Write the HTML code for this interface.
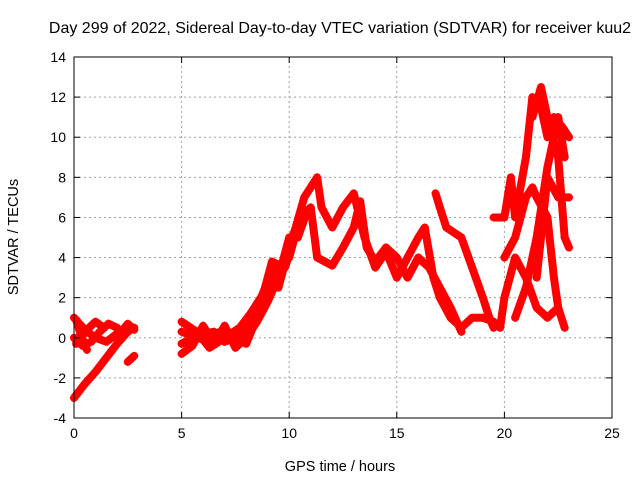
<!DOCTYPE html>
<html><head><meta charset="utf-8"><style>
body{margin:0;background:#fff}
svg{display:block;font-family:"Liberation Sans",sans-serif}
</style></head><body>
<svg id="chart" width="640" height="480">
<rect width="640" height="480" fill="#fff"/>
<g id="grid"></g>
<g id="series"></g>
<rect x="74" y="57" width="538" height="361" fill="none" stroke="#000"/>
<g id="ticks"></g>
<text x="340" y="33" text-anchor="middle" font-size="16">Day 299 of 2022, Sidereal Day-to-day VTEC variation (SDTVAR) for receiver kuu2</text>
<text x="340" y="471" text-anchor="middle" font-size="14.5">GPS time / hours</text>
<text transform="translate(18,237) rotate(-90)" text-anchor="middle" font-size="14.5">SDTVAR / TECUs</text>
</svg>
<script>
const xTicks=[0,5,10,15,20,25];
const yTicks=[-4,-2,0,2,4,6,8,10,12,14];
const trackA=[[0,-3],[0.5,-2.3],[1,-1.7],[1.5,-1],[2,-0.3],[2.5,0.3],[2.8,0.5]];
const trackB=[[0,1],[0.5,0.4],[1,0],[1.5,-0.2],[2,0.2],[2.5,0.6]];
const trackC=[[0,0],[0.4,-0.4],[0.8,-0.2],[1.2,0.3],[1.6,0.7],[2,0.5]];
const trackD=[[0.1,-0.3],[0.6,0.4],[1,0.8],[1.4,0.5]];
const trackE=[[2.5,-1.2],[2.8,-0.9]];
const trackF=[[2.2,0.3],[2.5,0.7],[2.8,0.4]];
const trackG=[[0.1,0.9],[0.3,0.2],[0.6,-0.6]];
const trackM1=[[5,-0.3],[5.5,0],[6,0.2],[6.5,0.3],[7,-0.2],[7.5,0],[8,0.5],[8.5,1.5],[9,2.8],[9.3,3.5],[9.5,2.5],[10,4.5],[10.3,5.5],[10.7,7],[11,7.5],[11.3,8],[11.5,6.5],[12,5.5],[12.5,6.5],[13,7.2],[13.5,5],[14,3.5],[14.5,4.3],[15,3],[15.5,4],[16,5],[16.3,5.5],[16.7,3],[17,2],[17.5,1],[18,0.5],[18.5,1],[19,1],[19.5,0.8]];
const trackM2=[[5,0.3],[6,-0.1],[7,0.4],[8,-0.3],[8.5,1],[9,2],[9.5,3.5],[10,4],[10.5,6],[11,6.5],[11.3,4],[12,3.6],[12.5,4.5],[13,5.5],[13.3,6.8],[13.6,4.5],[14,3.8],[14.5,4.5]];
const trackM5=[[5,-0.8],[5.5,-0.4],[6,0.6],[6.5,-0.3],[7,0.6],[7.5,-0.5],[8,0],[8.5,0.8],[9,1.8],[9.5,3],[10,5],[10.4,5],[10.8,6.2]];
const trackM6=[[5,0.8],[5.7,0.3],[6.3,-0.5],[7,0],[7.7,0.5],[8.2,1.2],[8.8,2.2],[9.2,3.8],[9.8,3.5],[10.2,4.8]];
const trackM3=[[16.8,7.2],[17,6.5],[17.3,5.5],[18,5],[18.5,3.5],[19,2],[19.3,1],[19.5,0.5]];
const trackM4=[[14.5,4.5],[15,4],[15.5,3],[16,4],[16.5,3.5],[17,2.5],[17.5,1.5],[18,0.3]];
const trackL1=[[19.5,6],[20,6],[20.3,8],[20.5,6],[21,9],[21.3,12],[21.7,11.5],[22,10],[22.3,11],[22.7,10.5],[23,10]];
const trackL2=[[20.5,1],[21,2.5],[21.5,5],[22,8.5],[22.5,11],[22.8,9]];
const trackL3=[[20,4],[20.5,5],[21,7],[21.3,7.5],[21.5,7],[22,6],[22.3,3],[22.5,1.5],[22.8,0.5]];
const trackL4=[[19.8,0.5],[20,2],[20.5,4],[21,3],[21.5,1.5],[22,1],[22.5,1.5]];
const trackL5=[[21.5,3],[22,8],[22.5,7],[23,7]];
const trackL6=[[21.3,11],[21.7,12.5],[22,11],[22.5,9],[22.8,5],[23,4.5]];
const tracks=[trackA,trackB,trackC,trackD,trackE,trackF,trackG,trackM1,trackM2,trackM5,trackM6,trackM3,trackM4,trackL1,trackL2,trackL3,trackL4,trackL5,trackL6];

const NS="http://www.w3.org/2000/svg";
const X0=74,X1=612,Y0=418,Y1=57;
const xs=v=>X0+(v-0)/(25-0)*(X1-X0);
const ys=v=>Y0-(v+4)/18*(Y0-Y1);
const grid=document.getElementById('grid'),ticks=document.getElementById('ticks'),ser=document.getElementById('series');
function mk(t,a,p){const e=document.createElementNS(NS,t);for(const k in a)e.setAttribute(k,a[k]);p.appendChild(e);return e;}
xTicks.forEach(v=>{
  const x=xs(v);
  if(v>0&&v<25){const g=mk('line',{x1:x,x2:x,y1:Y0,y2:Y1,stroke:'#a0a0a0','stroke-dasharray':'2,3'},grid);
  
  }
  mk('line',{x1:x,x2:x,y1:Y0,y2:Y0-6,stroke:'#000'},ticks);
  mk('line',{x1:x,x2:x,y1:Y1,y2:Y1+6,stroke:'#000'},ticks);
  const t=mk('text',{x:x,y:Y0+20,'text-anchor':'middle','font-size':14},ticks);t.textContent=v;
  
  
});
yTicks.forEach(v=>{
  const y=ys(v);
  if(v>-4&&v<14){const g=mk('line',{x1:X0,x2:X1,y1:y,y2:y,stroke:'#a0a0a0','stroke-dasharray':'2,3'},grid);
  
  }
  mk('line',{x1:X0,x2:X0+6,y1:y,y2:y,stroke:'#000'},ticks);
  mk('line',{x1:X1,x2:X1-6,y1:y,y2:y,stroke:'#000'},ticks);
  const t=mk('text',{x:X0-8,y:y+5,'text-anchor':'end','font-size':14},ticks);t.textContent=v;
  
  
});
tracks.forEach(tr=>{
  const pl=mk('polyline',{points:tr.map(p=>xs(p[0])+','+ys(p[1])).join(' '),fill:'none',stroke:'#f00','stroke-width':8,'stroke-linejoin':'round','stroke-linecap':'round'},ser);
  
  
  tr.forEach(p=>{
    const x=xs(p[0]),y=ys(p[1]);
    const m=mk('path',{d:`M${x-4},${y}H${x+4}M${x},${y-4}V${y+4}`,stroke:'#f00','stroke-width':1.2},ser);
    
    
  });
});
</script>
</body></html>
